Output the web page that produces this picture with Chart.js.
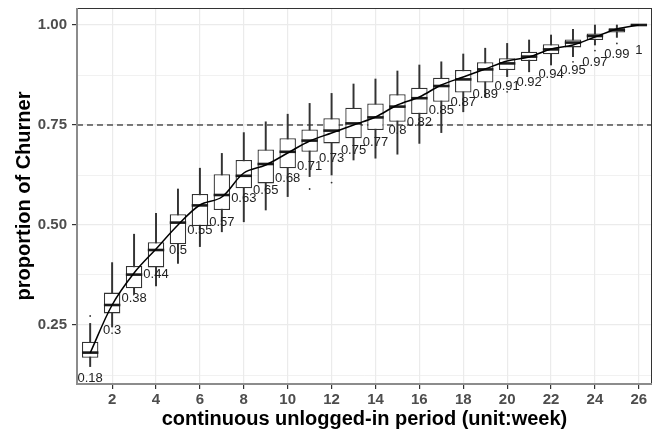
<!DOCTYPE html>
<html>
<head>
<meta charset="utf-8">
<script src="https://cdn.jsdelivr.net/npm/chart.js@4.4.1/dist/chart.umd.min.js"></script>
<style>
  html, body { margin: 0; padding: 0; background: #fff; }
  #wrap { width: 654px; height: 432px; }
</style>
</head>
<body>
<div id="wrap"><canvas id="chart" width="654" height="432"></canvas></div>
<script>
// weeks of the continuous unlogged-in period
const weeks = [1,2,3,4,5,6,7,8,9,10,11,12,13,14,15,16,17,18,19,20,21,22,23,24,25,26];

// mean proportion of churners (the labels)
const means = [0.18,0.3,0.38,0.44,0.5,0.55,0.57,0.63,0.65,0.68,0.71,0.73,0.75,0.77,0.8,0.82,0.85,0.87,0.89,0.91,0.92,0.94,0.95,0.97,0.99,1];

// box plot stats
const lowWhisker = [0.146,0.245,0.3275,0.3475,0.404,0.446,0.483,0.508,0.5375,0.571,0.621,0.625,0.6625,0.667,0.677,0.704,0.731,0.783,0.82,0.871,0.883,0.9,0.921,0.95,0.969,1];
const q1 = [0.168,0.279,0.342,0.394,0.452,0.4975,0.5375,0.592,0.604,0.642,0.683,0.704,0.717,0.7375,0.758,0.7775,0.808,0.831,0.856,0.8875,0.91,0.927,0.944,0.9625,0.981,1];
const medians = [0.181,0.3,0.376,0.4375,0.506,0.549,0.575,0.623,0.6525,0.683,0.711,0.736,0.754,0.769,0.796,0.817,0.8475,0.864,0.889,0.904,0.921,0.939,0.956,0.9725,0.9875,1];
const q3 = [0.208,0.331,0.3975,0.457,0.527,0.5775,0.627,0.6625,0.689,0.717,0.739,0.767,0.793,0.804,0.827,0.843,0.868,0.8875,0.907,0.917,0.933,0.952,0.964,0.979,0.992,1];
const highWhisker = [0.254,0.406,0.477,0.529,0.59,0.642,0.679,0.731,0.758,0.777,0.804,0.829,0.8525,0.865,0.885,0.9,0.908,0.9275,0.942,0.954,0.9625,0.975,0.989,1,1,1];

// outlier points
const outlierWeeks = [1,11,12,20,23,24,25];
const outlierValues = [0.2725,0.59,0.606,0.833,0.908,0.936,0.954];

// axis ticks
const xTicks = [2,4,6,8,10,12,14,16,18,20,22,24,26];
const yGrid = [0.125,0.25,0.375,0.5,0.625,0.75,0.875,1.0];
const yLabels = [0.25,0.5,0.75,1.0];
const threshold = 0.75;
const labelNudge = 0.0625;

const FONT = "'Liberation Sans', Arial, Helvetica, sans-serif";

function isLabelled(v) {
    return yLabels.some(l => Math.abs(l - v) < 1e-9);
}

// draws the dashed 0.75 line, the mean labels, border and axis titles
const extras = {
    id: 'extras',
    beforeDatasetsDraw(chart) {
        const ctx = chart.ctx, a = chart.chartArea;
        const y = chart.scales.y.getPixelForValue(threshold);
        ctx.save();
        ctx.strokeStyle = '#000';
        ctx.lineWidth = 1.1;
        ctx.setLineDash([6, 4]);
        ctx.beginPath();
        ctx.moveTo(a.left, y);
        ctx.lineTo(a.right, y);
        ctx.stroke();
        ctx.restore();
    },
    afterDatasetsDraw(chart) {
        const ctx = chart.ctx;
        const xs = chart.scales.x, ys = chart.scales.y;
        ctx.save();
        ctx.font = '13px ' + FONT;
        ctx.fillStyle = '#222';
        ctx.textAlign = 'center';
        ctx.textBaseline = 'middle';
        for (var i = 0; i < weeks.length; i++) {
            ctx.fillText(String(means[i]), xs.getPixelForValue(weeks[i]), ys.getPixelForValue(means[i] - labelNudge));
        }
        ctx.restore();
    },
    afterDraw(chart) {
        const ctx = chart.ctx, a = chart.chartArea;
        ctx.save();
        // panel border
        ctx.strokeStyle = '#333';
        ctx.lineWidth = 1;
        ctx.strokeRect(a.left + 0.5, a.top + 0.5, a.right - a.left - 1, a.bottom - a.top - 1);
        // axis lines
        ctx.strokeStyle = '#8c8c8c';
        ctx.lineWidth = 2;
        ctx.beginPath();
        ctx.moveTo(a.left, a.top);
        ctx.lineTo(a.left, a.bottom);
        ctx.lineTo(a.right, a.bottom);
        ctx.stroke();
        // titles
        ctx.fillStyle = '#000';
        ctx.font = 'bold 20px ' + FONT;
        ctx.textAlign = 'center';
        ctx.textBaseline = 'middle';
        ctx.fillText('continuous unlogged-in period (unit:week)', (a.left + a.right) / 2, 419);
        ctx.translate(24, (a.top + a.bottom) / 2);
        ctx.rotate(-Math.PI / 2);
        ctx.fillText('proportion of Churner', 0, 0);
        ctx.restore();
    }
};

chart = new Chart(document.getElementById('chart'), {
    type: 'bar',
    data: {
        datasets: [
            {
                type: 'line',
                label: 'mean',
                data: weeks.map((w, i) => ({ x: w, y: means[i] })),
                borderColor: '#000',
                borderWidth: 1.5,
                pointRadius: 0,
                tension: 0.35,
                fill: false,
                order: 0
            },
            {
                type: 'line',
                label: 'median',
                data: weeks.map((w, i) => ({ x: w, y: medians[i] })),
                showLine: false,
                pointStyle: 'line',
                pointRadius: 8.2,
                pointBorderWidth: 2.6,
                pointBorderColor: '#1a1a1a',
                clip: false,
                order: 1
            },
            {
                label: 'box',
                data: weeks.map((w, i) => ({ x: w, y: [q1[i], q3[i]] })),
                backgroundColor: '#fff',
                borderColor: '#333',
                borderWidth: 1.3,
                borderSkipped: false,
                grouped: false,
                barPercentage: 0.75,
                categoryPercentage: 1,
                order: 2
            },
            {
                label: 'whisker',
                data: weeks.map((w, i) => ({ x: w, y: [lowWhisker[i], highWhisker[i]] })),
                backgroundColor: '#333',
                borderWidth: 0,
                grouped: false,
                barThickness: 1.3,
                order: 3
            },
            {
                type: 'line',
                label: 'outlier',
                data: outlierWeeks.map((w, i) => ({ x: w, y: outlierValues[i] })),
                showLine: false,
                pointRadius: 0.9,
                pointBackgroundColor: '#333',
                pointBorderWidth: 0,
                order: 4
            }
        ]
    },
    options: {
        responsive: false,
        animation: false,
        // no auto padding: the wide median markers would shrink the panel
        layout: { autoPadding: false, padding: { left: 0, top: 8, right: 2, bottom: 0 } },
        plugins: {
            legend: { display: false },
            tooltip: { enabled: false }
        },
        scales: {
            x: {
                type: 'linear',
                offset: false,
                min: 0.4,
                max: 26.6,
                afterBuildTicks: s => { s.ticks = xTicks.map(v => ({ value: v })); },
                afterFit: s => { s.height = 48; s.paddingLeft = 0; s.paddingRight = 0; },
                border: { display: false },
                grid: {
                    offset: false,
                    color: '#ebebeb',
                    lineWidth: 1.2,
                    tickColor: '#333',
                    tickLength: 5
                },
                ticks: {
                    color: '#4d4d4d',
                    padding: 2,
                    maxRotation: 0,
                    font: { family: FONT, size: 15, weight: 'bold' },
                    callback: v => String(v)
                }
            },
            y: {
                type: 'linear',
                min: 0.1025,
                max: 1.0425,
                afterBuildTicks: s => { s.ticks = yGrid.map(v => ({ value: v })); },
                afterFit: s => { s.width = 77; s.paddingTop = 0; s.paddingBottom = 0; },
                border: { display: false },
                grid: {
                    color: '#ebebeb',
                    lineWidth: c => (c.tick && isLabelled(c.tick.value)) ? 1.2 : 0.7,
                    tickColor: c => (c.tick && isLabelled(c.tick.value)) ? '#333' : 'rgba(0,0,0,0)',
                    tickLength: 5
                },
                ticks: {
                    color: '#4d4d4d',
                    padding: 5,
                    font: { family: FONT, size: 15, weight: 'bold' },
                    callback: v => isLabelled(v) ? v.toFixed(2) : ''
                }
            }
        }
    },
    plugins: [extras]
});
</script>
</body>
</html>
